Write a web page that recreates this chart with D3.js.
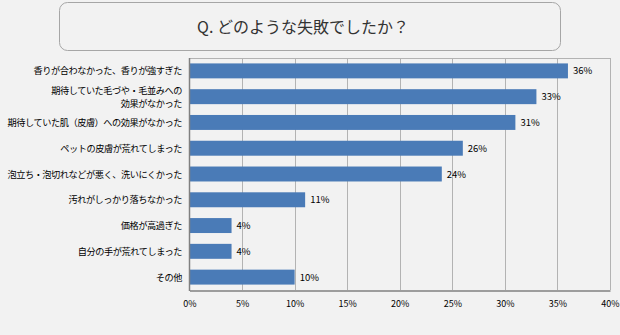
<!DOCTYPE html>
<html><head><meta charset="utf-8">
<script src="https://cdn.jsdelivr.net/npm/d3@7"></script>
<style>
html,body{margin:0;padding:0;background:#f2f2f2;}
svg{display:block;font-family:"Noto Sans CJK JP","Noto Sans",sans-serif;}
</style></head>
<body><svg id="chart" width="620" height="335"></svg>
<script>
const title = "Q. どのような失敗でしたか？";
const categories = [
  ["香りが合わなかった、香りが強すぎた"],
  ["期待していた毛づや・毛並みへの","効果がなかった"],
  ["期待していた肌（皮膚）への効果がなかった"],
  ["ペットの皮膚が荒れてしまった"],
  ["泡立ち・泡切れなどが悪く、洗いにくかった"],
  ["汚れがしっかり落ちなかった"],
  ["価格が高過ぎた"],
  ["自分の手が荒れてしまった"],
  ["その他"]
];
const values = [36, 33, 31, 26, 24, 11, 4, 4, 10];
const tickValues = [0, 5, 10, 15, 20, 25, 30, 35, 40];

const svg = d3.select("#chart");
const W = 620, H = 335;
svg.append("rect").attr("width", W).attr("height", H).attr("fill", "#f2f2f2");

// title box
svg.append("rect").attr("x", 59.5).attr("y", 2.5).attr("width", 501).attr("height", 48)
  .attr("rx", 8).attr("ry", 8).attr("fill", "#f2f2f2").attr("stroke", "#a6a6a6").attr("stroke-width", 1);
svg.append("text").attr("x", 303).attr("y", 33).attr("text-anchor", "middle")
  .attr("font-size", 16).attr("fill", "#333").text(title);

const m = {left: 189.5, right: 610, top: 58, bottom: 290};
const x = d3.scaleLinear().domain([0, 40]).range([m.left, m.right]);
const y = d3.scaleBand().domain(d3.range(categories.length)).range([m.top, m.bottom]).paddingInner(0.42).paddingOuter(0.21);

// gridlines
svg.append("g").selectAll("line").data(tickValues.slice(1)).join("line")
  .attr("x1", d => Math.round(x(d)) + 0.5).attr("x2", d => Math.round(x(d)) + 0.5)
  .attr("y1", m.top).attr("y2", m.bottom)
  .attr("stroke", "#b3b3b3").attr("stroke-width", 1);
// top border
svg.append("line").attr("x1", m.left).attr("x2", Math.round(x(40)) + 0.5)
  .attr("y1", m.top + 0.5).attr("y2", m.top + 0.5).attr("stroke", "#b3b3b3");

// bars
svg.append("g").selectAll("rect").data(values).join("rect")
  .attr("x", x(0)).attr("y", (d, i) => y(i))
  .attr("width", d => x(d) - x(0)).attr("height", y.bandwidth())
  .attr("fill", "#4a7bb7");

// value labels
svg.append("g").selectAll("text").data(values).join("text")
  .attr("x", d => x(d) + 5).attr("y", (d, i) => y(i) + y.bandwidth() / 2 + 3.5)
  .attr("font-size", 9.5).attr("fill", "#000").text(d => d + "%");

// x axis
const xAxis = d3.axisBottom(x).tickValues(tickValues).tickFormat(d => d + "%").tickSize(0).tickPadding(10);
const gx = svg.append("g").attr("transform", `translate(0,${m.bottom + 0.5})`).call(xAxis);
gx.select(".domain").attr("stroke", "#808080").attr("stroke-width", 1.5);
gx.selectAll("text").attr("font-size", 9).attr("fill", "#000")
  .attr("font-family", '"Noto Sans CJK JP","Noto Sans",sans-serif');

// y axis line
svg.append("line").attr("x1", m.left).attr("x2", m.left).attr("y1", m.top).attr("y2", m.bottom + 1)
  .attr("stroke", "#808080").attr("stroke-width", 1.5);

// category labels
const lab = svg.append("g").selectAll("text").data(categories).join("text")
  .attr("text-anchor", "end").attr("font-size", 9.2).attr("letter-spacing", -0.45).attr("fill", "#000")
  .attr("y", (d, i) => y(i) + y.bandwidth() / 2 + 3.5 - (d.length - 1) * 6.5);
lab.each(function(d) {
  const t = d3.select(this);
  d.forEach((line, j) => {
    t.append("tspan").attr("x", 182).attr("dy", j === 0 ? 0 : 13).text(line);
  });
});
</script></body></html>
